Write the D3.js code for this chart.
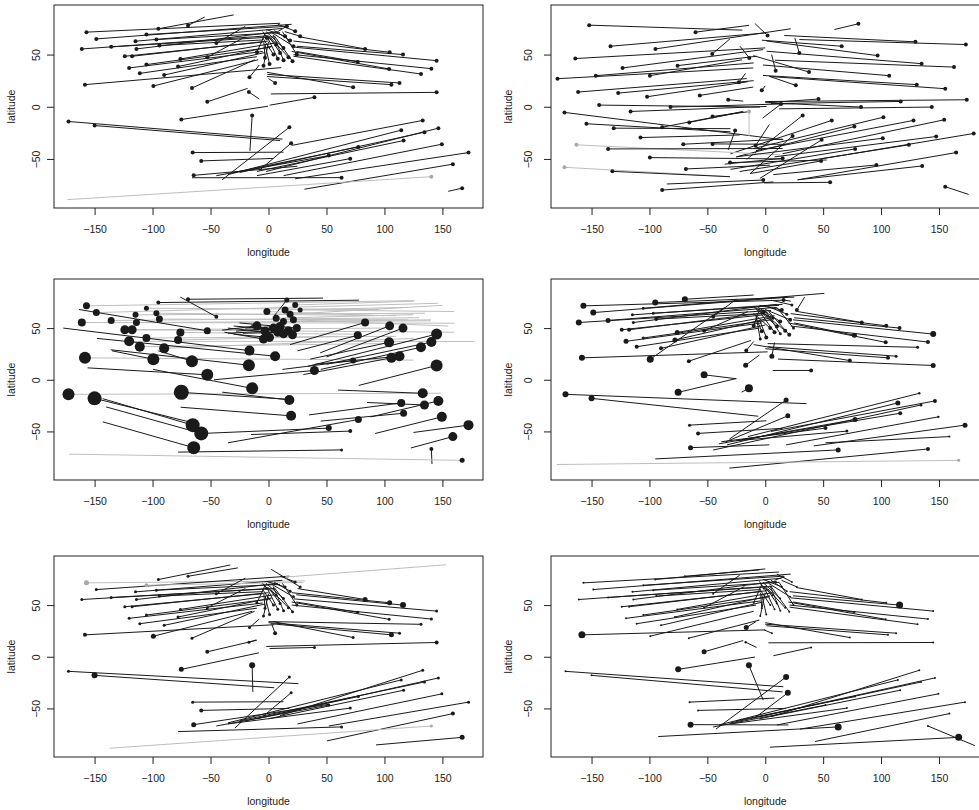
<!DOCTYPE html>
<html lang="en">
<head>
<meta charset="UTF-8" />
<title>Site vectors, six panels</title>
<script src="https://d3js.org/d3.v7.min.js"></script>
<style>
  body { margin: 0; background: #fff; font-family: "Liberation Sans", Arial, sans-serif; }
  svg { display: block; }
  .tick text, .lab { fill: #222; font-size: 10.5px; }
  .tick line { stroke: #222; }
</style>
</head>
<body>
<svg id="chart" width="979" height="810"></svg>
<script>
const xTicks = [-150, -100, -50, 0, 50, 100, 150];
const yTicks = [-50, 0, 50];

// station locations [lon, lat] shared by panels 1, 3, 4, 5, 6
const sites = [
  [-157,71.5],[-148.5,65],[-161,55.4],[-135.7,57.4],[-114.7,62.8],[-105.3,69.2],[-95,74.7],[-69.4,77.9],[-96.7,64.4],[-94.1,58.7],
  [-123.9,48.4],[-117.6,48.4],[-113.9,55.4],[-120.2,37.2],[-105.3,40.4],[-111,32],[-90,30.4],[-76,45.8],[-78,38.5],[-52.8,47.4],
  [-45,61],[-158.3,21.2],[-99.3,19.9],[-66,18],[-16.4,28.2],[-16.9,14.1],[-52.8,4.8],[39.6,9],[145,13.8],[5.7,22.8],
  [73,18.6],[106,21.2],[113,22.8],[131.5,31.4],[140.5,36.5],[145,44.2],[104,36.2],[77,43],[116,50],[104.5,52.2],
  [83.3,55.4],[27.3,67.6],[15.8,77.2],
  [-10,52.2],[-4.3,39.4],[0.9,41],[20.7,43.6],[24.4,50],[17.2,47.4],[12.9,56.4],[6.6,59.6],[4.3,50],[10,51.6],
  [18.6,63.5],[14.3,67.6],[21.5,58],[23,72.4],[-1.4,66],[8,46],[13,44.5],[-3,47],
  [-172.5,-14.1],[-150,-18],[-75.2,-12.2],[-14.1,-8.3],[18,-19.6],[19.5,-34.9],[-65.4,-43.9],[-58,-51.9],[-64.5,-65.7],[52,-46.8],
  [70.5,-49.7],[77.5,-38.5],[63,-67.9],[114.5,-22.4],[116.5,-32.4],[133,-13.1],[134.5,-24.4],[146.5,-20.5],[149.5,-35.9],[172.5,-43.9],
  [159,-55],[140.5,-67],[167,-78]
];

// panel 1 end points
const end1 = [
  [10,80],[20,79],[0,68],[5,67],[12,75],[15,77],[-30,88],[-55,86],[10,71],[-5,64],
  [-5,62],[0,63],[8,72],[-5,53],[2,57],[-10,48],[-3,52],[5,61],[3,58],[-20,67],
  [-20,77],[11,37.5],[-9,45],[-12,45],[-8,40],[-8,7.5],[-18,17.6],[1,1.5],[2,12.3],[0,27],
  [-1.4,33],[-1.4,29],[-1,31],[21.5,48.4],[21.5,50],[23,57],[20,53],[24,53],[24.4,58],[21.5,63],
  [27,67],[14,72],[8,72],
  [-3,70],[0,62],[-3,60],[5,68],[12,72],[2,66],[-2,72],[-4,70],[-5,66],[0,68],
  [5,73],[-2,74],[3,71],[8,79],[-5,72],[-1,67],[4,69],[-4,62],
  [12,-31],[10,-32.4],[-0.5,0.5],[-16,-42.3],[-40,-70],[-8,-61],[13,-43.5],[4,-49.5],[25,-57],[-45,-66],
  [-10,-66],[-30,-63],[-66,-68],[-35,-65],[-10,-62],[20,-37],[-25,-63],[-2,-62],[13,-66],[23,-69],
  [31,-79],[-173.5,-89],[155,-81]
];
const gray1 = [82];

// panel 3 end points and point sizes
const end3 = [
  [126,76.6],[146,74],[160.6,54.7],[130,60],[135,64.4],[95,68],[78,77],[47,79],[110,62],[120,58],
  [160,46],[100,50],[140,57],[178,37],[110,42],[100,35],[125,40],[80,44],[60,42],[-163.5,68],
  [-76,80],[125,19],[-135,28],[-95,28],[-177,50],[-136,29],[-156,11.5],[-47,0],[77.8,-5.5],[-148,40],
  [12,10],[30,5],[40,15],[45,10],[50,15],[34,13],[36,20],[25,28],[50,22],[44.5,26],
  [18.6,34],[160,66],[5,62],
  [-40,48],[-38,46],[-30,44],[-35,50],[-25,55],[-30,52],[140,58],[125,63],[-28,47],[-20,50],
  [150,72],[120,70],[155,52],[125,76],[100,62],[-22,45],[-15,53],[-35,45],
  [148.6,-13],[-64,-42],[18,-19],[-99.5,10],[-40,-12],[-75.7,-26.6],[-143,-18.3],[-140,-26.3],[-143,-40.7],[-58,-52],
  [-15,-53],[-35,-61],[-78,-70],[35,-34],[45,-40],[60,-10],[85,-22],[88,-36],[92,-52],[125,-51],
  [122.8,-66],[141,-81.5],[-172,-72]
];
const size3 = [
  3.5,3.5,4,3.5,3,2.5,2,2,3,3.5,
  4.5,4.5,3.5,5,4,5,5,4,4,3.5,
  2,6,6,6,5,6,6,4.5,6,5,
  3,5,5,5,5,5.5,5,4,4.5,4.5,
  4,2.5,2.5,
  4.5,4.5,4.5,4.5,4,4.5,3.5,3.5,4.5,4.5,
  3.5,3.5,3.5,3,3.5,4.5,4.5,4.5,
  6,7,7.5,6,5,5,7,7,6.5,3,
  2,3.5,1.5,4,3.5,5,4.5,5,5,5,
  4.5,2,2.5
];
const gray3 = [0,1,2,3,4,5,8,9,10,11,12,13,14,15,16,17,18,21,41,49,50,53,54,55,56,57,61,83];

// panel 4
const end4 = [
  [16,77],[20,80],[5,67],[10,70],[15,73],[51,83.6],[25,80],[-10,82],[12,72],[-2,64],
  [0,63],[2,65],[10,73],[-3,55],[5,58],[-5,50],[0,53],[8,62],[5,60],[-15,66],
  [-25,78],[2,27],[-35,70],[-12.4,38],[-10,37],[-5,24],[-25,1],[6.5,9],[11,20],[8,36],
  [-10,34],[0,30],[2,32],[2,35],[22,52],[24,58],[20,55],[25,55],[25,60],[22,64],
  [28,66],[34,80],[22,76],
  [-5,68],[-8,62],[-5,58],[3,66],[10,70],[-2,65],[-6,70],[-8,68],[-10,64],[-4,66],
  [2,71],[-5,72],[0,68],[5,77],[-10,70],[-5,66],[0,67],[-8,60],
  [35.7,-23.1],[-6,-35.3],[-25,1.2],[-20.4,-12],[-31,-57.4],[-34,-60],[1,-39.7],[15,-47],[3.5,-63],[-38,-60],
  [-25,-59],[-40,-62],[-95,-76.6],[-33,-63],[-20,-58],[-15,-55],[-45,-68],[5,-50],[18,-63],[42,-64],
  [52,-61],[-31,-85.5],[-180,-82]
];
const size4 = [
  3,3,3,2.5,1.5,1.5,3,3,1.5,2,
  2,2,1.5,2.5,1.5,2,2,2.5,2.5,2,
  2,3,3.5,2,2,2.5,3.5,2,2.5,2.5,
  2,2,1.5,1.5,2,3,2,2.5,2,2,
  2,2,2,
  2,1.5,2,2,1.5,2,2,1.5,2,2,
  1.5,2,2,1.5,2,2,1.5,2,
  3,3,3.5,4,2.5,2.5,1.5,2,2.5,2,
  1.5,2.5,2.5,2.5,2,1.2,1.5,2,1.2,2.5,
  1,2,1.5
];
const gray4 = [83];

// panel 5
const end5 = [
  [31.6,73.4],[18,78],[0,66],[5,66],[12,74],[30,72],[-33,88.8],[-26.4,86],[10,70],[-5,63],
  [-5,61],[0,62],[8,71],[-5,52],[2,56],[-10,47],[-3,51],[5,60],[3,57],[-20,66],
  [-20,76],[5,31],[-14,44],[-12,44],[-8,36.5],[-10.6,16.3],[-10,16],[1,8],[-2,10],[3,31],
  [4,34],[2,32],[0,33],[0,34],[20,50],[22,56],[20,53],[24,53],[24,60],[20,62],
  [25,66],[2.3,84.6],[153,89],
  [-3,69],[0,61],[-3,59],[5,67],[12,71],[2,65],[-2,71],[-4,69],[-5,65],[0,67],
  [5,72],[-2,73],[3,70],[10,78],[-5,71],[-1,66],[4,68],[-4,61],
  [25.8,-26],[5,-30],[-8.3,3.8],[-13.5,-34],[-29,-69],[-5,-58],[13,-43.5],[18,-50],[52,-46],[-45,-67],
  [-35,-65],[-20,-62],[-78,-72.4],[-35,-64],[0,-60],[10,-57],[-25,-62],[-10,-60],[25,-65],[52,-67],
  [50.5,-81.4],[-137,-88.5],[92.7,-85.3]
];
const size5 = [
  2.5,1.5,1.5,1.5,1.5,2,1.5,1.5,1.5,1.5,
  1.5,1.5,1.5,1.5,1.5,1.5,1.5,1.5,1.5,1.5,
  1.5,2,2.5,1.5,1.5,1.5,2,1.5,2,2,
  1.5,2.5,1.5,1.5,1.5,1.5,1.5,1.5,3,2.5,
  2.5,1.5,1.5,
  1.5,1.5,1.5,1.5,1.5,1.5,1.5,1.5,1.5,1.5,
  1.5,1.5,1.5,1.5,1.5,1.5,1.5,1.5,
  1.5,3,2.5,3,1.5,1.5,1.5,2,2.5,1.5,
  1.5,1.5,1.5,1.5,1.5,1.5,1.5,1.5,1.5,1.5,
  2,1.5,2.5
];
const gray5 = [0,5,42,82];

// panel 6
const end6 = [
  [12,82],[22,80],[2,68],[6,68],[14,76],[16,78],[0,85],[-5,84],[12,72],[-4,65],
  [-4,63],[2,64],[10,73],[-4,54],[4,58],[-8,50],[-2,53],[6,62],[4,59],[-18,68],
  [-22,79],[0,26],[-10,44],[-5,35.5],[-8,34],[-7.5,9],[-19,15.7],[7,1],[2.7,13.5],[-1,26],
  [0,33],[1,30],[0,31.5],[21,48],[21,50],[22,57],[20,53],[24,53],[24,59],[21,63],
  [27,67],[14,74],[8,74],
  [-3,70],[0,62],[-3,60],[5,68],[12,72],[2,66],[-2,72],[-4,70],[-5,66],[0,68],
  [5,74],[-2,75],[3,71],[10,80],[-5,73],[-1,67],[4,69],[-4,62],
  [15.6,-29],[15,-34],[-8.9,-0.3],[-1.7,-42],[-42.6,-70],[-10,-60],[8,-40],[18,-50],[20,-66],[-45,-68],
  [-30,-65],[-25,-62],[-92.4,-77.2],[-40,-66],[-5,-60],[5,-58],[-30,-64],[-5,-58],[10,-66],[30,-70],
  [43,-82],[181,-86],[4,-87.5]
];
const size6 = [
  1,1,1,1,1,1,1,1,1,1,
  1,1,1,1,1,1,1,1,1,1,
  1,3.5,1,1,2.5,1.2,2.5,1,1,1,
  1,1,1,1,1,1,1,1,3.5,1,
  1,1,1,
  1,1,1,1,1,1,1,1,1,1,
  1,1,1,1,1,1,1,1,
  1,1,3,3,3,3,1,1,3,1,
  1,1,3.5,1,1,1,1,1,1,1,
  1,1,3.5
];
const gray6 = [];

// panel 2: its own scattered points
const p2Start = [
  [-152,78.2],[-60.2,71.5],[2,68.3],[80.4,79.5],[-133.6,58],[-94.8,55.4],[129.7,62.2],[173.2,59.6],[29.4,51.6],[66,58],
  [-164,46.2],[-45.8,50.6],[97,49],[-13.8,46.8],[135,41.3],[163,38],[-123.2,37.2],[-75.7,39.4],[-179.4,26.9],[-146.3,29.8],
  [-99.6,29.8],[9,34.6],[37.8,33.3],[107,29.8],[130.8,21.2],[155.4,17.3],[26.4,20.5],[-161.6,14.1],[-127,13.1],[-102,9.6],
  [-56.5,10.9],[-22.8,23.4],[-3,15.7],[-32,6.7],[-143.4,1.6],[-81.8,-0.3],[82.7,-0.3],[46,7.4],[117,5.1],[174,6.7],
  [-116.3,-4.5],[13.6,2.6],[-173.4,-5.4],[143.8,-0.3],[-45.5,-9.3],[-65.6,-15],[-154.4,-16.3],[-130.8,-20.5],[-89,-19.6],[32.3,-8.3],
  [57.4,-13.1],[102,-10],[128,-13.1],[154.5,-12.5],[77,-19],[-26,-22.8],[-107.7,-29.5],[-70.8,-35.9],[-45.5,-35.6],[-163,-36.5],
  [-135.7,-40.4],[101.5,-30.1],[147.6,-28.5],[180,-25.6],[-8.3,-37.2],[15,-49.4],[48.7,-31.7],[23.6,-27.9],[77.6,-40.4],[124,-36.5],
  [164.8,-43.9],[-99.6,-48.7],[-30.4,-53.5],[-68.5,-59.6],[48.2,-51.9],[135.5,-56.7],[96,-55.8],[-173.4,-58],[-132,-61.9],[-1.7,-70.2],
  [56,-72.4],[-89,-79.8],[155.4,-76.6],[-14,-4.5]
];
const p2End = [
  [-19.8,73.4],[-14,78],[-9,79.8],[59.7,74],[1.2,70.8],[22,74.7],[16.4,68.3],[29.4,64.4],[25.5,66],[-3,63.8],
  [0,56.4],[-30.5,65],[1.2,63],[-21.8,58],[1.2,53.2],[8.4,44.6],[-1.7,54.8],[-7.5,48.4],[-10.4,37.2],[-10,42],
  [-20,45],[5.5,50],[-10.3,49],[-2,40],[-2,30],[3.5,29],[3.5,29.2],[-16,27],[-10,25],[-15,24],
  [-10.3,18.9],[-17,32],[0,20],[-19,5.4],[-4.6,-0.3],[25,3],[0,4],[3,4],[5,3],[0,5],
  [1.2,0.3],[-2.3,-10.9],[15.6,-31.7],[12,-2],[-13,-4.5],[-20,-5],[-30,-24],[-30,-21],[-19,-4.5],[-16,-50.3],
  [-30,-45],[-10,-40],[-8,-42],[15,-45],[-25,-48],[-32,-41.3],[-22,-27],[15,-31],[18,-36],[13,-46],
  [15,-40],[-25,-48],[8,-48],[48,-50],[3.5,-17],[-35,-55],[-4.6,-68.6],[-13,-64],[-30,-60],[-22,-62],
  [28,-70],[15,-50],[53,-51],[4,-56],[-13,-64],[28,-70],[7,-65],[-30.4,-67],[-30.4,-67],[-85,-74],
  [-1,-73],[7,-72],[175.6,-84],[-14,-28]
];
const p2Gray = [59, 77, 83];

const panels = [
  { col: 0, row: 0, start: sites, end: end1, size: null, gray: gray1, grayDots: true },
  { col: 1, row: 0, start: p2Start, end: p2End, size: null, gray: p2Gray, grayDots: true },
  { col: 0, row: 1, start: sites, end: end3, size: size3, gray: gray3, grayDots: false },
  { col: 1, row: 1, start: sites, end: end4, size: size4, gray: gray4, grayDots: true },
  { col: 0, row: 2, start: sites, end: end5, size: size5, gray: gray5, grayDots: true },
  { col: 1, row: 2, start: sites, end: end6, size: size6, gray: gray6, grayDots: false }
];

const cols = [[54, 483], [551, 979.5]];
const rows = [[5, 208], [279, 480], [556, 757]];
const yLabX = [36.7, 528.5];
const latX = [11, 508];
const fmt = d => String(d).replace("-", "\u2212");

const svg = d3.select("#chart");

panels.forEach((p, i) => {
  const [x0, x1] = cols[p.col];
  const [y0, y1] = rows[p.row];
  const x = d3.scaleLinear().domain([-185, 185]).range([x0, x1]);
  const y = d3.scaleLinear().domain([-97, 97.5]).range([y1, y0]);

  svg.append("clipPath").attr("id", "clip" + i)
    .append("rect").attr("x", x0).attr("y", y0).attr("width", x1 - x0).attr("height", y1 - y0);

  const segs = p.start.map((s, k) => ({
    s: s, e: p.end[k], r: p.size ? p.size[k] : 2, gray: p.gray.includes(k)
  }));

  const plot = svg.append("g").attr("clip-path", `url(#clip${i})`);
  plot.selectAll("line").data(segs).join("line")
    .attr("x1", d => x(d.s[0])).attr("y1", d => y(d.s[1]))
    .attr("x2", d => x(d.e[0])).attr("y2", d => y(d.e[1]))
    .attr("stroke", d => d.gray ? "#bebebe" : "#1a1a1a")
    .attr("stroke-width", 1);
  plot.selectAll("circle").data(segs).join("circle")
    .attr("cx", d => x(d.s[0])).attr("cy", d => y(d.s[1]))
    .attr("r", d => d.r)
    .attr("fill", d => (d.gray && p.grayDots) ? "#a8a8a8" : "#1a1a1a");

  svg.append("rect")
    .attr("x", x0).attr("y", y0).attr("width", x1 - x0).attr("height", y1 - y0)
    .attr("fill", "none").attr("stroke", "#222").attr("stroke-width", 1);

  const xa = svg.append("g").attr("transform", `translate(0,${y1})`)
    .call(d3.axisBottom(x).tickValues(xTicks).tickSize(7).tickPadding(11).tickFormat(fmt));
  xa.select(".domain").remove();

  const ya = svg.append("g").attr("transform", `translate(${x0},0)`)
    .call(d3.axisLeft(y).tickValues(yTicks).tickSize(7).tickFormat(fmt));
  ya.select(".domain").remove();
  ya.selectAll(".tick text")
    .attr("transform", "rotate(-90)")
    .attr("x", 0).attr("y", -(x0 - yLabX[p.col]))
    .attr("dy", "0.35em")
    .attr("text-anchor", "middle");
  svg.selectAll("g").filter(function () { return this.hasAttribute("font-size"); })
    .attr("font-size", null).attr("font-family", null);

  svg.append("text").attr("class", "lab")
    .attr("x", (x0 + x1) / 2).attr("y", y1 + 44).attr("dy", "0.35em")
    .attr("text-anchor", "middle").text("longitude");
  svg.append("text").attr("class", "lab")
    .attr("transform", `translate(${latX[p.col]},${(y0 + y1) / 2}) rotate(-90)`)
    .attr("dy", "0.35em").attr("text-anchor", "middle").text("latitude");
});
</script>
</body>
</html>
